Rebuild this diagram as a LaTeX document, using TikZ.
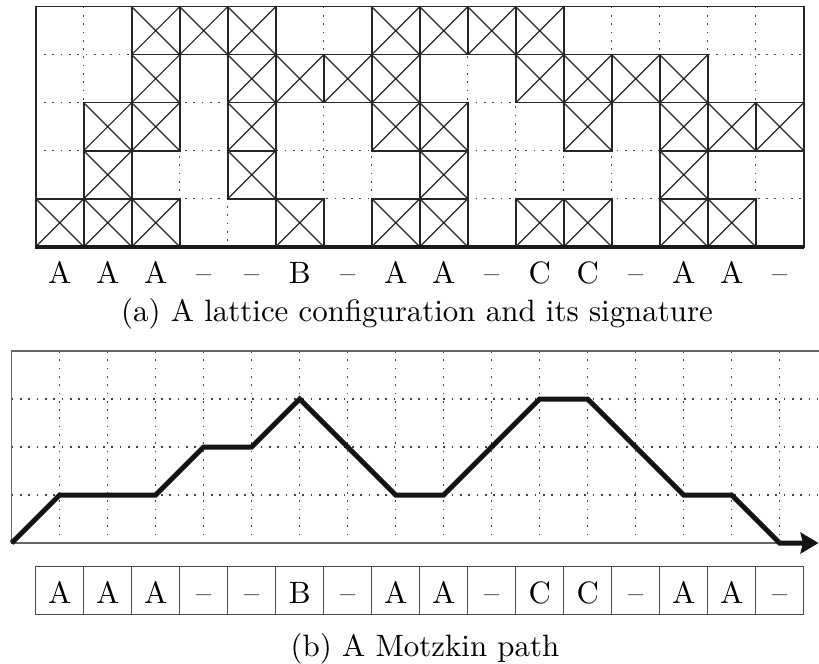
\documentclass[tikz,border=0pt]{standalone}
\usepackage{graphicx}
\usetikzlibrary{arrows.meta}
\definecolor{lnc}{HTML}{262626}
\definecolor{dotc}{HTML}{404040}
\definecolor{frc}{HTML}{666666}
\definecolor{boxc}{HTML}{4A4A4A}
\newcommand{\lbl}[1]{\scalebox{3.1}{\fontsize{10}{12}\selectfont #1}}
\newcommand{\xc}[2]{%
  \draw[cellbox] ({35.7+48*#1},{6.7+48*#2}) rectangle +(48,48);
  \draw[diag] ({35.7+48*#1},{6.7+48*#2}) -- +(48,48)
              ({83.7+48*#1},{6.7+48*#2}) -- +(-48,48);}
\tikzset{
  dotline/.style={draw=dotc, line width=1.5bp, dash pattern=on 1.7bp off 6.6bp},
  cellbox/.style={draw=lnc, line width=1.6bp},
  diag/.style={draw=lnc, line width=1.2bp},
  framea/.style={draw=lnc, line width=1.6bp},
  groundline/.style={draw=black!90, line width=4.5bp},
  frameb/.style={draw=frc, line width=1.5bp},
  motz/.style={draw=black!92, line width=5bp, -{Stealth[length=18bp,width=21bp,inset=2.5bp]}},
  boxcell/.style={draw=boxc, line width=1.4bp, minimum width=48bp, minimum height=48bp, inner sep=0pt, outer sep=0pt},
  lab/.style={anchor=base, inner sep=0pt, outer sep=0pt},
}
\begin{document}
\begin{tikzpicture}[x=1bp,y=-1bp]
\useasboundingbox (0,0) rectangle (819,664);
% ---------- (a) lattice ----------
\foreach \i in {1,...,15} \draw[dotline] ({35.7+48*\i},6.7) -- ({35.7+48*\i},246.7);
\foreach \j in {1,...,4} \draw[dotline] (35.7,{6.7+48*\j}) -- (803.7,{6.7+48*\j});
\foreach \k in {2,3,4,7,8,9,10} {\xc{\k}{0}}
\foreach \k in {2,4,5,6,7,10,11,12,13} {\xc{\k}{1}}
\foreach \k in {1,2,4,7,8,11,13,14,15} {\xc{\k}{2}}
\foreach \k in {1,4,8,13} {\xc{\k}{3}}
\foreach \k in {0,1,2,5,7,8,10,11,13,14} {\xc{\k}{4}}
\draw[framea] (35.7,6.7) rectangle (803.7,246.7);
\draw[groundline] (35.2,246.9) -- (804.3,246.9);
\foreach \s [count=\n from 0] in {A,A,A,\textendash,\textendash,B,\textendash,A,A,\textendash,C,C,\textendash,A,A,\textendash}
  \node[lab] (s\n) at ({59.7+48*\n},283.3) {\lbl{\s}};
\node[lab] (capa) at (417,321.7) {\lbl{(a) A lattice configuration and its signature}};
% ---------- (b) Motzkin path ----------
\foreach \i in {1,...,16} \draw[dotline] ({11.7+48*\i},351) -- ({11.7+48*\i},543);
\foreach \j in {1,2,3} \draw[dotline] (11.7,{351+48*\j}) -- (817,{351+48*\j});
\draw[frameb] (819,351) -- (11.7,351) -- (11.7,543) -- (800,543);
\draw[motz] (11.7,543) -- (59.7,495) -- (155.7,495) -- (203.7,447) -- (251.7,447)
  -- (299.7,399) -- (395.7,495) -- (443.7,495) -- (539.7,399) -- (587.7,399)
  -- (683.7,495) -- (731.7,495) -- (779.7,543) -- (818.5,543);
\foreach \s [count=\n from 0] in {A,A,A,\textendash,\textendash,B,\textendash,A,A,\textendash,C,C,\textendash,A,A,\textendash} {
  \node[boxcell] (b\n) at ({59.7+48*\n},590.7) {};
  \node[lab] (bt\n) at ({59.7+48*\n},603.3) {\lbl{\s}};
}
\node[lab] (capb) at (425,656.8) {\lbl{(b) A Motzkin path}};
\end{tikzpicture}
\end{document}
